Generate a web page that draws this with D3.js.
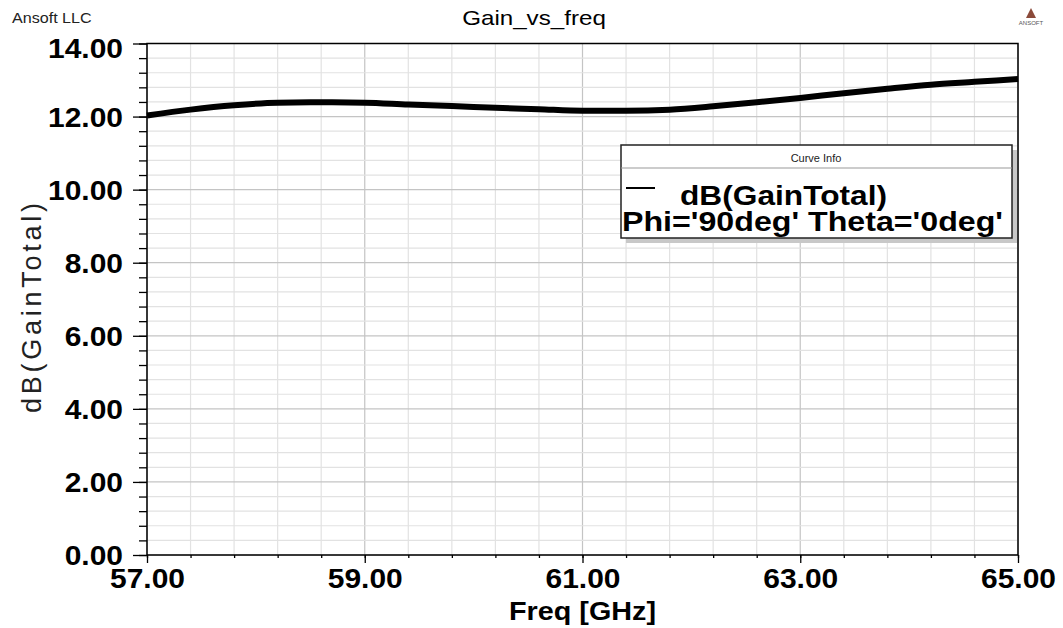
<!DOCTYPE html>
<html>
<head>
<meta charset="utf-8">
<script src="https://cdn.jsdelivr.net/npm/d3@7"></script>
<style>
body { margin: 0; background: #fff; }
svg text { font-family: "Liberation Sans", Arial, sans-serif; fill: #000; }
</style>
</head>
<body>
<svg id="chart" width="1063" height="628"></svg>
<script>
var freq = [57.0, 57.4, 57.8, 58.2, 58.6, 59.0, 59.4, 59.8, 60.2, 60.6, 61.0,
	61.4, 61.8, 62.2, 62.6, 63.0, 63.4, 63.8, 64.2, 64.6, 65.0];
var gainDb = [12.03, 12.19, 12.31, 12.38, 12.39, 12.38, 12.33, 12.29, 12.24, 12.20, 12.16,
	12.16, 12.19, 12.28, 12.39, 12.51, 12.64, 12.76, 12.87, 12.95, 13.03];
var xLabels = ["57.00", "59.00", "61.00", "63.00", "65.00"];
var yLabels = ["0.00", "2.00", "4.00", "6.00", "8.00", "10.00", "12.00", "14.00"];
var legendLines = ["dB(GainTotal)", "Phi='90deg' Theta='0deg'"];

var PLOT_L = 147, PLOT_R = 1018, PLOT_T = 43.5, PLOT_B = 555;
var STRETCH = 1.11;

var svg = d3.select("#chart");

var x = d3.scaleLinear().domain([57, 65]).range([PLOT_L, PLOT_R]);
var y = d3.scaleLinear().domain([0, 14]).range([PLOT_B, PLOT_T]);

// 0.4 steps, every 5th is a labelled one
var xTicks = d3.range(0, 21).map(function(i) { return 57 + i * 2 / 5; });
var yTicks = d3.range(0, 36).map(function(i) { return i * 2 / 5; });
var xMajor = xTicks.filter(function(d, i) { return i % 5 === 0; });
var yMajor = yTicks.filter(function(d, i) { return i % 5 === 0; });

// the source bitmap is a little wider than tall, so text is stretched
function stretch(sel, k)
{
	sel.each(function() {
		var len = this.getComputedTextLength();
		d3.select(this).attr("textLength", len * (k || STRETCH)).attr("lengthAdjust", "spacingAndGlyphs");
	});
}

// grid
var grid = svg.append("g");
grid.selectAll("line.vx").data(xTicks).enter().append("line")
	.attr("x1", function(d) { return x(d); })
	.attr("x2", function(d) { return x(d); })
	.attr("y1", PLOT_T).attr("y2", PLOT_B)
	.style("stroke", function(d, i) { return i % 5 === 0 ? "#c4c4c4" : "#e2e2e2"; })
	.style("stroke-width", 1.2);
grid.selectAll("line.hy").data(yTicks).enter().append("line")
	.attr("y1", function(d) { return y(d); })
	.attr("y2", function(d) { return y(d); })
	.attr("x1", PLOT_L).attr("x2", PLOT_R)
	.style("stroke", function(d, i) { return i % 5 === 0 ? "#c4c4c4" : "#e2e2e2"; })
	.style("stroke-width", 1.2);

// axes: minor ticks first, then labelled majors
svg.append("g").attr("transform", "translate(0," + PLOT_B + ")")
	.call(d3.axisBottom(x).tickValues(xTicks).tickSize(3).tickFormat(""))
	.call(function(g) { g.select(".domain").remove(); });
var xAxis = svg.append("g").attr("transform", "translate(0," + PLOT_B + ")")
	.call(d3.axisBottom(x).tickValues(xMajor).tickSize(8).tickPadding(6)
		.tickFormat(function(d, i) { return xLabels[i]; }));
xAxis.select(".domain").remove();
xAxis.selectAll("text").attr("dy", null).attr("y", 33)
	.style("font-size", "27px").style("font-weight", "bold");

svg.append("g").attr("transform", "translate(" + PLOT_L + ",0)")
	.call(d3.axisLeft(y).tickValues(yTicks).tickSize(8).tickFormat(""))
	.call(function(g) { g.select(".domain").remove(); });
var yAxis = svg.append("g").attr("transform", "translate(" + PLOT_L + ",0)")
	.call(d3.axisLeft(y).tickValues(yMajor).tickSize(14).tickPadding(10)
		.tickFormat(function(d, i) { return yLabels[i]; }));
yAxis.select(".domain").remove();
yAxis.selectAll("text").attr("dy", "0.36em")
	.style("font-size", "27px").style("font-weight", "bold");
yAxis.selectAll("text").filter(function(d) { return d === 14; }).attr("dy", "0.5em");
svg.selectAll(".tick line").style("stroke", "#000").style("stroke-width", 1.3);

// frame
svg.append("rect")
	.attr("x", PLOT_L).attr("y", PLOT_T)
	.attr("width", PLOT_R - PLOT_L).attr("height", PLOT_B - PLOT_T)
	.style("fill", "none").style("stroke", "#000").style("stroke-width", 1.5);

// curve
var line = d3.line()
	.x(function(d, i) { return x(freq[i]); })
	.y(function(d) { return y(d); })
	.curve(d3.curveMonotoneX);
svg.append("path").datum(gainDb)
	.attr("d", line)
	.style("fill", "none").style("stroke", "#000").style("stroke-width", 6);

// titles
svg.append("text").attr("x", 12).attr("y", 23).text("Ansoft LLC")
	.style("font-size", "14px").style("fill", "#222");
svg.append("text").attr("x", 534).attr("y", 25).attr("text-anchor", "middle")
	.text("Gain_vs_freq").style("font-size", "21px");
svg.append("text").attr("x", (PLOT_L + PLOT_R) / 2).attr("y", 620).attr("text-anchor", "middle")
	.text("Freq [GHz]").style("font-size", "25px").style("font-weight", "bold");
svg.append("text").attr("transform", "translate(41,308) rotate(-90)")
	.attr("text-anchor", "middle")
	.attr("textLength", 210).attr("lengthAdjust", "spacing")
	.text("dB(GainTotal)").style("font-size", "27px").style("fill", "#222");

// logo
var logo = svg.append("g").attr("transform", "translate(1031,0)");
logo.append("path").attr("d", "M0,8 L5,18 L-5,18 Z").style("fill", "#8b4a3a");
logo.append("text").attr("x", 0).attr("y", 25).attr("text-anchor", "middle")
	.text("ANSOFT").style("font-size", "6px").style("fill", "#555");

// legend
var leg = svg.append("g").attr("transform", "translate(621,145)");
leg.append("rect").attr("x", 5).attr("y", 5).attr("width", 391).attr("height", 93)
	.style("fill", "#c8c8c8");
leg.append("rect").attr("width", 391).attr("height", 93)
	.style("fill", "#fff").style("stroke", "#222").style("stroke-width", 1.5);
leg.append("line").attr("x1", 0).attr("x2", 391).attr("y1", 23).attr("y2", 23)
	.style("stroke", "#999").style("stroke-width", 1);
leg.append("text").attr("x", 195).attr("y", 17).attr("text-anchor", "middle")
	.text("Curve Info").style("font-size", "11px").style("fill", "#222");
leg.append("line").attr("x1", 5).attr("x2", 34).attr("y1", 43).attr("y2", 43)
	.style("stroke", "#000").style("stroke-width", 2);
leg.append("text").attr("x", 59).attr("y", 60).text(legendLines[0])
	.attr("textLength", 207).attr("lengthAdjust", "spacingAndGlyphs")
	.style("font-size", "28px").style("font-weight", "bold");
leg.append("text").attr("x", 1).attr("y", 86).text(legendLines[1])
	.attr("textLength", 381).attr("lengthAdjust", "spacingAndGlyphs")
	.style("font-size", "28px").style("font-weight", "bold");

stretch(xAxis.selectAll("text"));
stretch(yAxis.selectAll("text"));
stretch(svg.selectAll("text").filter(function() {
	var t = d3.select(this).text();
	return t === "Ansoft LLC" || t === "Gain_vs_freq" || t === "Freq [GHz]";
}), 1.15);
</script>
</body>
</html>
